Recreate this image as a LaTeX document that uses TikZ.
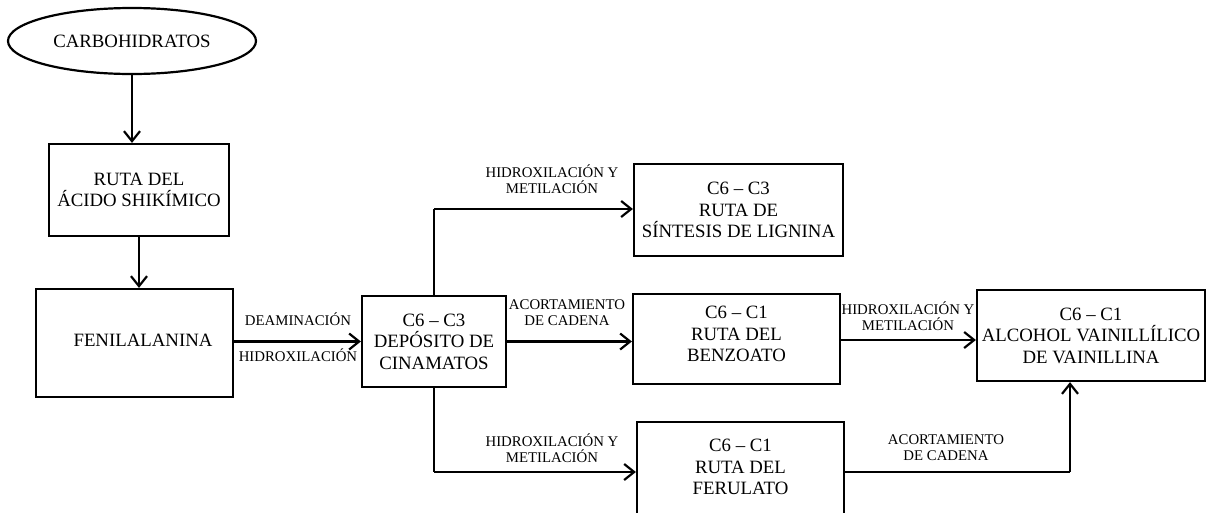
\documentclass[tikz,border=0pt]{standalone}
\usepackage{fontspec}
\setmainfont{Liberation Serif}
\usetikzlibrary{arrows.meta,shapes.geometric}
\begin{document}
\begin{tikzpicture}[x=1pt,y=-1pt,
  box/.style={draw,line width=2.2pt,rectangle,inner sep=0pt,align=center,
    font=\fontsize{18.8}{21.5}\selectfont},
  oval/.style={draw,line width=2.2pt,ellipse,inner sep=0pt,
    font=\fontsize{18.8}{21.5}\selectfont},
  lbl/.style={align=center,inner sep=0pt,font=\fontsize{14.8}{16}\selectfont},
  conn/.style={line width=2.2pt,-{Straight Barb[length=10pt,width=16pt,line width=2.2pt]}},
  seg/.style={line width=2.2pt}]
\useasboundingbox (0,0) rectangle (1206,512);
\clip (0,0) rectangle (1206,512);
% nodes
\node[oval,minimum width=248,minimum height=66] (carb) at (132,41) {CARBOHIDRATOS};
\node[box,minimum width=180,minimum height=92] (shik) at (139,190) {RUTA DEL\\ÁCIDO SHIKÍMICO};
\node[box,minimum width=197,minimum height=108] (fen) at (134.5,343) {};
\node[inner sep=0pt,font=\fontsize{18.8}{21.5}\selectfont] (fent) at (143,340) {FENILALANINA};
\node[box,minimum width=144,minimum height=91] (dep) at (434,341.5) {C6 – C3\\DEPÓSITO DE\\CINAMATOS};
\node[box,minimum width=209,minimum height=92] (lig) at (738.5,210) {C6 – C3\\RUTA DE\\SÍNTESIS DE LIGNINA};
\node[box,minimum width=207,minimum height=90] (ben) at (736.5,339) {};
\node[inner sep=0pt,align=center,font=\fontsize{18.8}{21.5}\selectfont] (bent) at (736.5,334) {C6 – C1\\RUTA DEL\\BENZOATO};
\node[box,minimum width=207,minimum height=100] (fer) at (740.5,472) {};
\node[inner sep=0pt,align=center,font=\fontsize{18.8}{21.5}\selectfont] (fert) at (740.5,467) {C6 – C1\\RUTA DEL\\FERULATO};
\node[box,minimum width=228,minimum height=91] (van) at (1091,335.5) {C6 – C1\\ALCOHOL VAINILLÍLICO\\DE VAINILLINA};
% corner coordinates
\coordinate (c1) at (434,209);
\coordinate (c2) at (434,472);
\coordinate (c3) at (1070,472);
\coordinate (c4) at (900,340);
% connectors
\draw[conn] (carb.south) -- (carb.south |- shik.north);
\draw[conn] (shik.south) -- (shik.south |- fen.north);
\draw[conn] (fen.east |- dep.west) -- (dep.west);
\draw[seg] (c1 |- dep.north) -- (c1);
\draw[conn] (c1) -- (c1 -| lig.west);
\draw[conn] (dep.east) -- (dep.east -| ben.west);
\draw[seg] (c2 |- dep.south) -- (c2);
\draw[conn] (c2) -- (c2 -| fer.west);
\draw[conn] (ben.east |- c4) -- (van.west |- c4);
\draw[seg] (fer.east |- c3) -- (c3);
\draw[conn] (c3) -- (c3 |- van.south);
% labels
\node[lbl] (l1) at (298,319) {DEAMINACIÓN};
\node[lbl] (l2) at (298,355) {HIDROXILACIÓN};
\node[lbl] (l3) at (552,179) {HIDROXILACIÓN Y\\METILACIÓN};
\node[lbl] (l4) at (567,313) {ACORTAMIENTO\\DE CADENA};
\node[lbl] (l5) at (552,448) {HIDROXILACIÓN Y\\METILACIÓN};
\node[lbl] (l6) at (908,316) {HIDROXILACIÓN Y\\METILACIÓN};
\node[lbl] (l7) at (946,448) {ACORTAMIENTO\\DE CADENA};
\end{tikzpicture}
\end{document}
